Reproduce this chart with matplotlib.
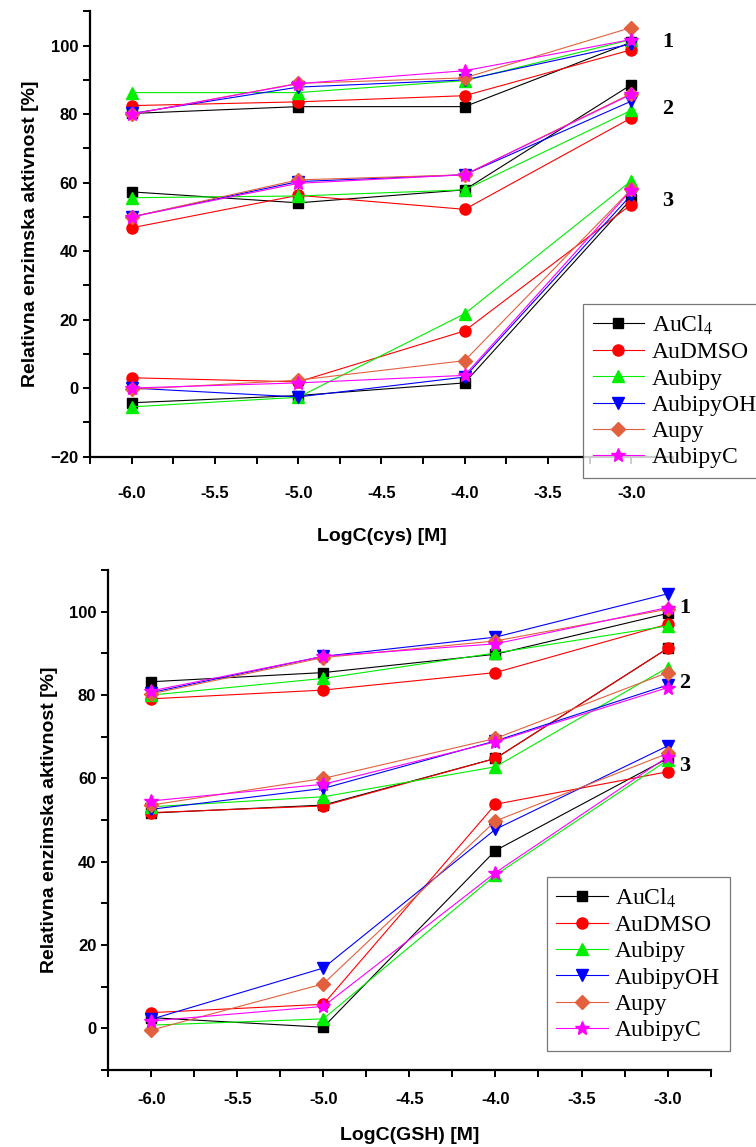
"""Relative enzyme activity vs. log concentration of cys and GSH, two panels."""

import matplotlib

matplotlib.use("Agg")

import matplotlib.pyplot as plt
from matplotlib.ticker import MultipleLocator

plt.rcParams["mathtext.fontset"] = "stix"

LOG_C = [-6.0, -5.0, -4.0, -3.0]

SERIES = ["AuCl$_4$", "AuDMSO", "Aubipy", "AubipyOH", "Aupy", "AubipyC"]
COLORS = ["#000000", "#FF0000", "#00EE00", "#0000FF", "#E2603E", "#FF00FF"]
MARKERS = ["s", "o", "^", "v", "D", "*"]
SIZES = [7, 8, 8, 8, 7, 10]

# cys panel, three groups (1, 2, 3) per series
CYS_1 = [
    [80.2, 82.2, 82.2, 101.0],
    [82.5, 83.6, 85.4, 98.8],
    [86.3, 86.3, 89.8, 101.8],
    [80.2, 87.9, 90.0, 100.5],
    [80.0, 89.0, 90.6, 105.3],
    [80.0, 88.9, 92.7, 101.8],
]
CYS_2 = [
    [57.3, 54.1, 57.9, 88.6],
    [46.8, 56.3, 52.2, 78.9],
    [55.6, 56.1, 57.9, 81.1],
    [50.0, 60.3, 62.3, 83.8],
    [50.0, 60.8, 62.3, 86.0],
    [50.0, 59.8, 62.3, 85.8],
]
CYS_3 = [
    [-4.3, -2.2, 1.5, 55.2],
    [3.0, 1.8, 16.7, 53.6],
    [-5.5, -2.7, 21.7, 60.5],
    [0.0, -2.6, 3.2, 56.4],
    [-0.4, 2.3, 8.0, 58.0],
    [0.0, 1.5, 3.7, 57.8],
]

# GSH panel
GSH_1 = [
    [83.2, 85.4, 89.8, 99.6],
    [79.1, 81.2, 85.4, 97.0],
    [80.0, 84.0, 90.1, 96.6],
    [80.6, 89.3, 93.9, 104.3],
    [80.3, 89.0, 93.0, 100.6],
    [81.0, 89.3, 92.3, 101.0],
]
GSH_2 = [
    [51.7, 53.6, 64.8, 91.2],
    [51.8, 53.4, 64.8, 91.2],
    [53.2, 55.6, 62.8, 86.6],
    [52.6, 57.6, 69.0, 82.4],
    [53.6, 60.0, 69.6, 85.4],
    [54.6, 58.6, 68.8, 81.8],
]
GSH_3 = [
    [2.6, 0.3, 42.7, 64.8],
    [3.8, 5.8, 53.8, 61.6],
    [0.8, 2.3, 36.8, 64.4],
    [2.2, 14.5, 47.8, 67.8],
    [-0.4, 10.7, 49.8, 66.0],
    [1.8, 5.3, 37.4, 65.2],
]

Y_LABEL = "Relativna enzimska aktivnost [%]"


def draw_panel(ax, groups, xlabel, ylim, legend_anchor, group_pos, xpad, xlabelpad):
    for i, name in enumerate(SERIES):
        for g, values in enumerate(groups):
            ax.plot(
                LOG_C,
                values[i],
                color=COLORS[i],
                lw=0.8,
                marker=MARKERS[i],
                ms=SIZES[i],
                mec=COLORS[i],
                label=name if g == 0 else None,
            )

    ax.set_xlim(-6.25, -2.75)
    ax.set_ylim(*ylim)
    ax.xaxis.set_major_locator(MultipleLocator(0.5))
    ax.xaxis.set_minor_locator(MultipleLocator(0.25))
    ax.yaxis.set_major_locator(MultipleLocator(20))
    ax.yaxis.set_minor_locator(MultipleLocator(10))
    ax.xaxis.set_major_formatter(lambda v, _: f"{v:.1f}")

    for side in ("top", "right"):
        ax.spines[side].set_visible(False)
    for side in ("left", "bottom"):
        ax.spines[side].set_linewidth(1.6)
    ax.tick_params(which="both", direction="out", width=1.4, length=5)
    ax.tick_params(labelsize=12)
    ax.tick_params(axis="x", pad=xpad)
    for lab in ax.get_xticklabels() + ax.get_yticklabels():
        lab.set_fontweight("bold")
        lab.set_family("Liberation Sans")

    ax.set_xlabel(xlabel, fontsize=14, fontweight="bold", family="Liberation Sans",
                  labelpad=xlabelpad)
    ax.set_ylabel(Y_LABEL, fontsize=14, fontweight="bold", family="Liberation Sans", labelpad=8)

    for text, (gx, gy) in zip(["1", "2", "3"], group_pos):
        ax.text(gx, gy, text, fontsize=16, fontweight="bold", family="Liberation Serif",
                ha="center", va="center", clip_on=False)

    leg = ax.legend(
        loc="upper left",
        bbox_to_anchor=legend_anchor,
        prop={"family": "Liberation Serif", "size": 17},
        frameon=True,
        fancybox=False,
        edgecolor="#555555",
        labelspacing=0.2,
        handlelength=2.2,
        handletextpad=0.3,
        borderpad=0.4,
        borderaxespad=0,
    )
    leg.get_frame().set_linewidth(0.9)


fig = plt.figure(figsize=(7.56, 11.47), dpi=100)
ax_top = fig.add_axes([0.119, 0.602, 0.771, 0.388])
ax_bot = fig.add_axes([0.143, 0.067, 0.797, 0.436])

draw_panel(ax_top, [CYS_1, CYS_2, CYS_3], "LogC(cys) [M]", (-20, 110),
           (0.846, 0.342), [(-2.78, 101.0), (-2.78, 81.5), (-2.78, 54.5)], 16, 20)
draw_panel(ax_bot, [GSH_1, GSH_2, GSH_3], "LogC(GSH) [M]", (-10, 110),
           (0.728, 0.386), [(-2.9, 101.0), (-2.9, 83.0), (-2.9, 63.0)], 11, 14)

fig.savefig("out.png", dpi=100)
